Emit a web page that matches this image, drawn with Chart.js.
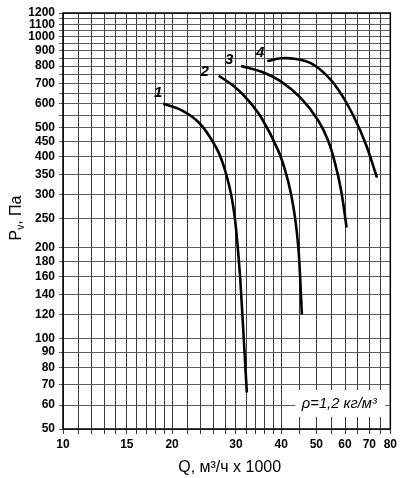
<!DOCTYPE html>
<html>
<head>
<meta charset="utf-8">
<script src="https://cdn.jsdelivr.net/npm/chart.js@4/dist/chart.umd.min.js"></script>
<style>
  body { margin: 0; background: #fff; }
  canvas { display: block; }
</style>
</head>
<body>
<canvas id="fanChart" width="400" height="478"></canvas>
<script>
// grid and labels of the log-log axes
const qGrid = [10, 11, 12, 13, 14, 15, 16, 17, 18, 19, 20, 22, 24, 26, 28, 30, 32, 34, 36, 38, 40, 45, 50, 55, 60, 65, 70, 75, 80]
const qLabels = [10, 15, 20, 30, 40, 50, 60, 70, 80]
const pGrid = [50, 60, 70, 80, 90, 100, 120, 140, 160, 180, 200, 250, 300, 350, 400, 450,
    500, 550, 600, 650, 700, 750, 800, 850, 900, 950, 1000, 1050, 1100, 1150, 1200]
const pLabels = [50, 60, 70, 80, 90, 100, 120, 140, 160, 180, 200, 250, 300, 350, 400, 450,
    500, 600, 700, 800, 900, 1000, 1100, 1200]

// fan curves, Q in m3/h x 1000, Pv in Pa
const curve1Q = [18.9, 21.4, 23.8, 25.9, 27.05, 28.2, 29.1, 29.8, 30.35, 30.8, 31.25, 31.7, 32.15]
const curve1P = [600, 568, 517, 449, 406, 350, 300, 250, 200, 160, 120, 89, 66]
const curve2Q = [26.9, 29.8, 32.4, 35.3, 39.2, 41.3, 42.6, 43.7, 44.6, 45.1, 45.6]
const curve2P = [743, 682, 617, 538, 421, 350, 300, 250, 200, 160, 120]
const curve3Q = [31.0, 35.3, 40.0, 45.4, 50.5, 53.8, 56.3, 58.5, 60.6]
const curve3P = [800, 766, 710, 625, 530, 455, 381, 310, 233]
const curve4Q = [36.6, 40.0, 43.5, 48.4, 53.8, 58.5, 63.7, 68.6, 73.5]
const curve4P = [831, 849, 846, 817, 738, 647, 538, 438, 341]
const curveNames = ['1', '2', '3', '4']

const densityNote = 'ρ=1,2 кг/м³'

function makeCurve(name, qs, ps) {
    return {
        label: name,
        data: qs.map((q, i) => ({ x: q, y: ps[i] })),
        borderColor: '#000',
        borderWidth: 2.6,
        pointRadius: 0,
        fill: false,
        tension: 0.4
    }
}

// number offsets from the first point of each curve
const nameOffsets = [[-5, -11], [-14, -4], [-12, -6], [-7, -8]]

const decorPlugin = {
    id: 'decor',
    afterDatasetsDraw(chart) {
        const ctx = chart.ctx
        const area = chart.chartArea
        ctx.save()

        // density note on a white patch
        ctx.fillStyle = '#fff'
        ctx.fillRect(area.right - 95, area.bottom - 39, 90, 27)
        ctx.fillStyle = '#000'
        ctx.font = 'italic 14px "Liberation Sans", Arial, sans-serif'
        ctx.textAlign = 'center'
        ctx.textBaseline = 'middle'
        const w = ctx.measureText(densityNote).width
        ctx.translate(area.right - 51, area.bottom - 25)
        ctx.scale(75 / w, 1)
        ctx.fillText(densityNote, 0, 0)
        ctx.restore()

        // curve numbers
        ctx.save()
        ctx.font = 'italic bold 15px "Liberation Sans", Arial, sans-serif'
        ctx.textAlign = 'center'
        ctx.textBaseline = 'middle'
        ctx.fillStyle = '#000'
        chart.data.datasets.forEach((ds, i) => {
            const p = chart.getDatasetMeta(i).data[0]
            ctx.fillText(ds.label, p.x + nameOffsets[i][0], p.y + nameOffsets[i][1])
        })
        ctx.restore()

        // frame
        ctx.save()
        ctx.strokeStyle = '#000'
        ctx.lineWidth = 1.5
        ctx.strokeRect(area.left, area.top, area.right - area.left, area.bottom - area.top)
        ctx.restore()

        // axis titles
        ctx.save()
        ctx.fillStyle = '#000'
        ctx.font = '16px "Liberation Sans", Arial, sans-serif'
        ctx.textAlign = 'center'
        ctx.textBaseline = 'alphabetic'
        ctx.fillText('Q, м³/ч x 1000', (area.left + area.right) / 2 + 3, 472)
        ctx.restore()

        ctx.save()
        ctx.fillStyle = '#000'
        ctx.translate(21, 218)
        ctx.rotate(-Math.PI / 2)
        ctx.textBaseline = 'alphabetic'
        ctx.textAlign = 'left'
        const big = '16px "Liberation Sans", Arial, sans-serif'
        const small = '10px "Liberation Sans", Arial, sans-serif'
        ctx.font = big
        const wP = ctx.measureText('P').width
        const wRest = ctx.measureText(', Па').width
        ctx.font = small
        const wV = ctx.measureText('v').width
        let x0 = -(wP + wV + wRest) / 2
        ctx.font = big
        ctx.fillText('P', x0, 0)
        ctx.font = small
        ctx.fillText('v', x0 + wP, 3)
        ctx.font = big
        ctx.fillText(', Па', x0 + wP + wV, 0)
        ctx.restore()
    }
}

const tickFont = { family: '"Liberation Sans", Arial, sans-serif', size: 12, weight: 'bold' }

const fanChart = new Chart(document.getElementById('fanChart'), {
    type: 'line',
    data: {
        datasets: [
            makeCurve(curveNames[0], curve1Q, curve1P),
            makeCurve(curveNames[1], curve2Q, curve2P),
            makeCurve(curveNames[2], curve3Q, curve3P),
            makeCurve(curveNames[3], curve4Q, curve4P)
        ]
    },
    options: {
        responsive: false,
        animation: false,
        layout: { padding: { top: 13, right: 9, left: 0, bottom: 0 } },
        plugins: {
            legend: { display: false },
            tooltip: { enabled: false }
        },
        scales: {
            x: {
                type: 'logarithmic',
                min: 10,
                max: 80,
                afterBuildTicks: (scale) => { scale.ticks = qGrid.map(v => ({ value: v })) },
                afterFit: (scale) => { scale.height = 49 },
                ticks: {
                    autoSkip: false,
                    maxRotation: 0,
                    padding: 3,
                    color: '#000',
                    font: tickFont,
                    callback: (v) => qLabels.includes(v) ? String(v) : ''
                },
                grid: { color: '#3a3a3a', lineWidth: 1, tickLength: 5 },
                border: { display: false }
            },
            y: {
                type: 'logarithmic',
                min: 50,
                max: 1200,
                afterBuildTicks: (scale) => { scale.ticks = pGrid.map(v => ({ value: v })) },
                afterFit: (scale) => { scale.width = 63 },
                ticks: {
                    autoSkip: false,
                    padding: 4,
                    color: '#000',
                    font: tickFont,
                    callback: (v) => pLabels.includes(v) ? String(v) : ''
                },
                grid: { color: '#5a5a5a', lineWidth: 1, tickLength: 4 },
                border: { display: false }
            }
        }
    },
    plugins: [decorPlugin]
})
</script>
</body>
</html>
